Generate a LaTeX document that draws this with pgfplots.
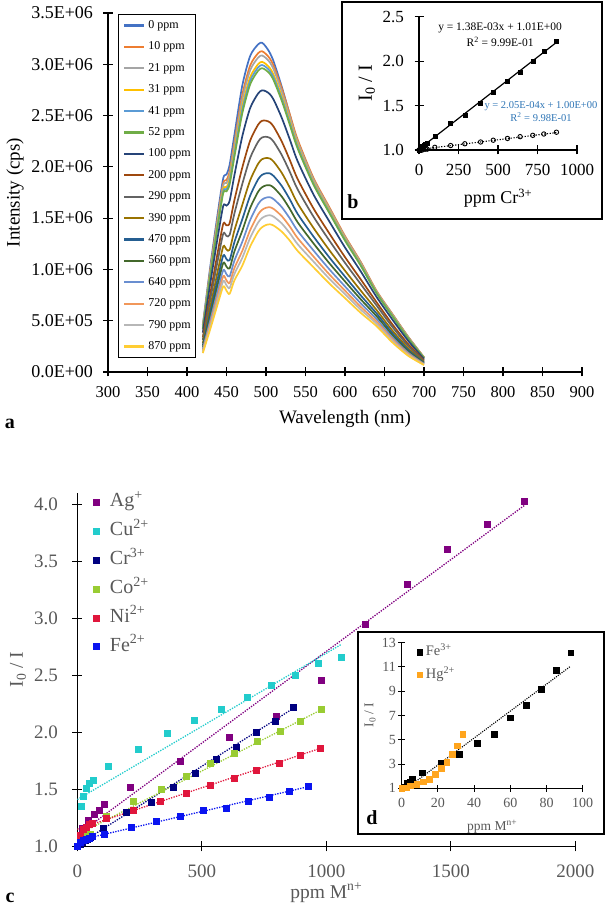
\documentclass[border=0pt]{standalone}
\usepackage{fontspec}
\setmainfont{Liberation Serif}
\usepackage{pgfplots}
\usepackage{pgfplotstable}
\pgfplotsset{compat=1.18}
\newcommand{\fs}[1]{\fontsize{#1}{#1}\selectfont}
\definecolor{s0}{HTML}{4472C4}\definecolor{s1}{HTML}{ED7D31}\definecolor{s2}{HTML}{A5A5A5}
\definecolor{s3}{HTML}{FFC000}\definecolor{s4}{HTML}{5B9BD5}\definecolor{s5}{HTML}{70AD47}
\definecolor{s6}{HTML}{264478}\definecolor{s7}{HTML}{9E480E}\definecolor{s8}{HTML}{636363}
\definecolor{s9}{HTML}{997300}\definecolor{s10}{HTML}{255E91}\definecolor{s11}{HTML}{43682B}
\definecolor{s12}{HTML}{698ED0}\definecolor{s13}{HTML}{F1975A}\definecolor{s14}{HTML}{B7B7B7}
\definecolor{s15}{HTML}{FFCD33}
\definecolor{txtgray}{HTML}{595959}
\definecolor{cAg}{HTML}{800080}\definecolor{cCu}{HTML}{22CCCC}\definecolor{cCr}{HTML}{000080}
\definecolor{cCo}{HTML}{99CC33}\definecolor{cNi}{HTML}{E0163C}\definecolor{cFe}{HTML}{0A14F0}
\definecolor{cHg}{HTML}{FFA51E}
\definecolor{eqblue}{HTML}{2E75B6}

\pgfplotstableread{
wl c0 c10 c21 c31 c41 c52 c100 c200 c290 c390 c470 c560 c640 c720 c790 c870
420 0.459 0.445 0.439 0.429 0.424 0.418 0.384 0.338 0.313 0.280 0.258 0.240 0.223 0.208 0.197 0.184
430 1.059 1.029 1.013 0.991 0.979 0.968 0.890 0.784 0.727 0.653 0.602 0.561 0.521 0.487 0.461 0.432
440 1.605 1.562 1.541 1.509 1.493 1.477 1.366 1.214 1.131 1.024 0.947 0.886 0.826 0.776 0.736 0.691
446 1.894 1.845 1.821 1.785 1.766 1.748 1.622 1.447 1.351 1.226 1.137 1.065 0.994 0.935 0.888 0.835
450 1.926 1.871 1.843 1.803 1.782 1.761 1.622 1.430 1.327 1.194 1.101 1.027 0.953 0.893 0.845 0.792
454 2.022 1.958 1.925 1.879 1.854 1.830 1.670 1.452 1.337 1.191 1.090 1.010 0.932 0.868 0.819 0.763
460 2.311 2.240 2.203 2.151 2.124 2.097 1.918 1.675 1.545 1.380 1.266 1.175 1.086 1.013 0.956 0.893
470 2.793 2.702 2.656 2.591 2.556 2.522 2.298 1.993 1.833 1.629 1.489 1.378 1.270 1.181 1.113 1.037
480 3.082 2.989 2.943 2.875 2.840 2.805 2.574 2.257 2.088 1.870 1.720 1.600 1.482 1.384 1.309 1.224
490 3.194 3.108 3.065 3.001 2.969 2.936 2.715 2.411 2.245 2.030 1.878 1.757 1.636 1.536 1.457 1.368
495 3.210 3.127 3.086 3.024 2.993 2.962 2.746 2.449 2.286 2.074 1.922 1.801 1.681 1.581 1.501 1.411
500 3.170 3.099 3.060 3.001 2.972 2.942 2.736 2.450 2.293 2.086 1.937 1.819 1.700 1.601 1.522 1.433
505 3.110 3.055 3.018 2.962 2.934 2.906 2.708 2.434 2.282 2.081 1.936 1.820 1.704 1.606 1.528 1.440
510 3.020 2.979 2.944 2.891 2.864 2.838 2.650 2.388 2.242 2.048 1.908 1.796 1.683 1.588 1.512 1.426
520 2.780 2.764 2.734 2.688 2.665 2.643 2.477 2.246 2.115 1.941 1.813 1.710 1.607 1.519 1.448 1.368
530 2.510 2.517 2.491 2.451 2.432 2.413 2.270 2.069 1.954 1.799 1.685 1.592 1.499 1.420 1.355 1.282
540 2.240 2.268 2.246 2.212 2.196 2.180 2.056 1.882 1.781 1.644 1.542 1.460 1.377 1.306 1.247 1.181
560 1.870 1.894 1.878 1.851 1.840 1.828 1.732 1.596 1.516 1.406 1.322 1.255 1.186 1.127 1.078 1.022
580 1.590 1.609 1.595 1.573 1.562 1.552 1.470 1.353 1.284 1.190 1.119 1.062 1.003 0.953 0.911 0.864
600 1.310 1.326 1.315 1.297 1.289 1.281 1.214 1.120 1.064 0.988 0.930 0.883 0.834 0.793 0.759 0.720
620 1.060 1.073 1.064 1.048 1.042 1.035 0.980 0.902 0.856 0.793 0.746 0.708 0.669 0.635 0.607 0.576
640 0.780 0.791 0.785 0.776 0.772 0.767 0.731 0.680 0.648 0.604 0.571 0.543 0.515 0.490 0.470 0.446
660 0.560 0.566 0.561 0.551 0.547 0.543 0.511 0.465 0.439 0.404 0.379 0.358 0.337 0.319 0.304 0.288
680 0.340 0.344 0.340 0.333 0.330 0.327 0.304 0.272 0.254 0.231 0.215 0.201 0.188 0.177 0.168 0.158
700 0.140 0.144 0.142 0.140 0.138 0.137 0.127 0.115 0.107 0.098 0.091 0.086 0.080 0.076 0.072 0.068
}\spectra

\pgfplotsset{
  panel/.style={scale only axis, axis lines*=left, tick align=center,
    axis line style={line width=1.4pt}, every tick/.style={line width=1.2pt, black},
    /pgf/number format/assume math mode=true, /pgf/number format/1000 sep={},
    anchor=south west},
  spec/.style={line width=1.7pt, smooth, tension=0.45, no marks},
  trend/.style={line width=1.3pt, dash pattern=on 1.3pt off 1.3pt, no marks, forget plot},
  onedec/.style={/pgf/number format/fixed, /pgf/number format/fixed zerofill, /pgf/number format/precision=1},
}

\begin{document}
\begin{tikzpicture}
\path[use as bounding box] (0pt,0pt) rectangle (606pt,911pt);

% ---------------- panel a ----------------
\begin{axis}[panel, at={(108pt,539pt)}, width=474pt, height=359pt,
  xmin=300, xmax=900, ymin=0, ymax=3.5,
  major tick length=9pt,
  xtick={300,350,...,900}, ytick={0,0.5,1,1.5,2,2.5,3,3.5},
  yticklabels={0.0E+00,5.0E+05,1.0E+06,1.5E+06,2.0E+06,2.5E+06,3.0E+06,3.5E+06},
  xticklabel style={font=\fs{16.5}, yshift=-6pt},
  yticklabel style={font=\fs{18}, xshift=-7pt},
  xlabel={Wavelength (nm)}, ylabel={Intensity (cps)},
  label style={font=\fs{19}},
  xlabel style={at={(axis description cs:0.5,-0.131)}, anchor=center},
  ylabel style={at={(axis description cs:-0.196,0.5)}, anchor=center},
  legend image code/.code={\draw[#1, line width=2.2pt] (0pt,0pt) -- (20pt,0pt);},
  legend style={at={(axis description cs:0.0211,0.9972)}, anchor=north west,
    draw=black, line width=1pt, inner xsep=4.7pt, inner ysep=5.5pt,
    font=\fs{12}, row sep=10.4pt, column sep=3pt,
    nodes={inner sep=0pt, text height=8.5pt, text depth=2.5pt, anchor=west}},
  legend cell align=left]
\addplot[spec, s0] table[x=wl,y=c0] {\spectra};
\addplot[spec, s1] table[x=wl,y=c10] {\spectra};
\addplot[spec, s2] table[x=wl,y=c21] {\spectra};
\addplot[spec, s3] table[x=wl,y=c31] {\spectra};
\addplot[spec, s4] table[x=wl,y=c41] {\spectra};
\addplot[spec, s5] table[x=wl,y=c52] {\spectra};
\addplot[spec, s6] table[x=wl,y=c100] {\spectra};
\addplot[spec, s7] table[x=wl,y=c200] {\spectra};
\addplot[spec, s8] table[x=wl,y=c290] {\spectra};
\addplot[spec, s9] table[x=wl,y=c390] {\spectra};
\addplot[spec, s10] table[x=wl,y=c470] {\spectra};
\addplot[spec, s11] table[x=wl,y=c560] {\spectra};
\addplot[spec, s12] table[x=wl,y=c640] {\spectra};
\addplot[spec, s13] table[x=wl,y=c720] {\spectra};
\addplot[spec, s14] table[x=wl,y=c790] {\spectra};
\addplot[spec, s15] table[x=wl,y=c870] {\spectra};
\legend{0 ppm,10 ppm,21 ppm,31 ppm,41 ppm,52 ppm,100 ppm,200 ppm,290 ppm,390 ppm,470 ppm,560 ppm,640 ppm,720 ppm,790 ppm,870 ppm}
\end{axis}
\node[font=\bfseries\fs{20}] at (10pt,487pt) {a};

% ---------------- panel b ----------------
\filldraw[fill=white, draw=black, line width=1.4pt] (342pt,692pt) rectangle (602pt,909pt);
\begin{axis}[panel, at={(419pt,761pt)}, width=158pt, height=133.3pt,
  xmin=0, xmax=1000, ymin=1, ymax=2.5, major tick length=9pt, clip=false,
  xtick={0,250,500,750,1000}, ytick={1,1.5,2,2.5},
  xticklabel style={font=\fs{17}, yshift=-6pt},
  yticklabel style={font=\fs{17}, xshift=-7pt, onedec},
  xlabel={ppm Cr\textsuperscript{3+}}, ylabel={I\textsubscript{0} / I},
  xlabel style={font=\fs{18}, at={(axis description cs:0.5,-0.36)}, anchor=center},
  ylabel style={font=\fs{20}, at={(axis description cs:-0.33,0.5)}, anchor=center}]
\addplot[black, line width=1.2pt, no marks] coordinates {(0,1.01) (870,2.211)};
\addplot[black, line width=1.1pt, dash pattern=on 1.2pt off 1.6pt, no marks] coordinates {(0,1.005) (870,1.196)};
\addplot[only marks, mark=square*, mark size=2pt, black] coordinates {
(0,1.0) (10,1.02) (21,1.04) (31,1.05) (41,1.06) (52,1.08) (100,1.16) (200,1.30) (290,1.39)
(390,1.53) (470,1.65) (560,1.77) (640,1.88) (720,2.00) (790,2.11) (870,2.22)};
\addplot[only marks, mark=o, mark size=2.2pt, black, line width=0.9pt] coordinates {
(0,1.0) (10,1.0) (21,1.0) (31,1.01) (41,1.01) (52,1.01) (100,1.03) (200,1.05) (290,1.07)
(390,1.09) (470,1.11) (560,1.13) (640,1.15) (720,1.165) (790,1.18) (870,1.20)};
\node[font=\fs{11.5}] at (axis cs:513,2.373) {y = 1.38E-03x + 1.01E+00};
\node[font=\fs{11.5}] at (axis cs:513,2.215) {R\textsuperscript{2} = 9.99E-01};
\node[font=\fs{10.5}, text=eqblue] at (axis cs:772,1.49) {y = 2.05E-04x + 1.00E+00};
\node[font=\fs{10.5}, text=eqblue] at (axis cs:772,1.37) {R\textsuperscript{2} = 9.98E-01};
\end{axis}
\node[font=\bfseries\fs{20}] at (353pt,709pt) {b};

% ---------------- panel c ----------------
\begin{axis}[panel, at={(77.3pt,64.7pt)}, width=498pt, height=353.3pt,
  xmin=0, xmax=2000, ymin=1, ymax=4.1, major tick length=10pt,
  xtick={0,500,1000,1500,2000}, ytick={1,1.5,2,2.5,3,3.5,4},
  xticklabel style={font=\fs{19}, text=txtgray, yshift=-10pt},
  yticklabel style={font=\fs{19}, text=txtgray, xshift=-11pt, onedec},
  xlabel={ppm M\textsuperscript{n+}}, ylabel={I\textsubscript{0} / I},
  label style={font=\fs{19.5}, text=txtgray},
  xlabel style={at={(axis description cs:0.5,-0.132)}, anchor=center},
  ylabel style={at={(axis description cs:-0.119,0.5)}, anchor=center},
  mark size=3pt,
  legend style={at={(axis description cs:0.031,0.9994)}, anchor=north west,
    draw=none, fill=none, inner sep=0pt, font=\fs{20}, text=txtgray,
    row sep=11.4pt, column sep=11pt,
    nodes={inner sep=0pt, text height=13.5pt, text depth=4pt, anchor=west}},
  legend cell align=left]
\addplot[only marks, mark=square*, cAg] coordinates {
(0,1.0) (18,1.16) (44,1.225) (67,1.28) (88,1.32) (107,1.37) (213,1.52) (415,1.75) (611,1.96)
(798,2.14) (981,2.46) (1156,2.95) (1323,3.30) (1487,3.61) (1645,3.83) (1795,4.03)};
\addlegendentry{Ag\textsuperscript{+}}
\addplot[only marks, mark=square*, cCu] coordinates {
(0,1.0) (14,1.35) (24,1.44) (35,1.51) (48,1.55) (64,1.58) (126,1.70) (245,1.85) (361,1.99)
(471,2.11) (577,2.20) (681,2.31) (779,2.41) (877,2.505) (968,2.61) (1059,2.66)};
\addlegendentry{Cu\textsuperscript{2+}}
\addplot[only marks, mark=square*, cCr] coordinates {
(0,1.0) (10,1.02) (21,1.04) (31,1.05) (41,1.06) (52,1.08) (104,1.16) (196,1.30) (295,1.39)
(387,1.52) (473,1.64) (557,1.76) (637,1.87) (719,2.00) (794,2.10) (867,2.22)};
\addlegendentry{Cr\textsuperscript{3+}}
\addplot[only marks, mark=square*, cCo] coordinates {
(0,1.0) (10,1.04) (21,1.06) (31,1.08) (41,1.09) (52,1.11) (118,1.26) (225,1.40) (335,1.50)
(436,1.615) (535,1.725) (632,1.82) (724,1.92) (813,2.01) (897,2.10) (981,2.20)};
\addlegendentry{Co\textsuperscript{2+}}
\addplot[only marks, mark=square*, cNi] coordinates {
(0,1.0) (12,1.10) (24,1.15) (36,1.17) (48,1.19) (60,1.20) (115,1.245) (225,1.32) (334,1.395)
(437,1.467) (533,1.537) (630,1.596) (720,1.665) (811,1.728) (897,1.797) (977,1.86)};
\addlegendentry{Ni\textsuperscript{2+}}
\addplot[only marks, mark=square*, cFe] coordinates {
(0,1.0) (11,1.04) (24,1.055) (35,1.065) (48,1.075) (58,1.085) (108,1.108) (216,1.167) (316,1.216)
(414,1.266) (507,1.315) (597,1.33) (685,1.40) (771,1.435) (853,1.483) (929,1.527)};
\addlegendentry{Fe\textsuperscript{2+}}
\addplot[cAg, trend] coordinates {(0,1.10) (1795,3.99)};
\addplot[cCu, trend] coordinates {(0,1.41) (1059,2.77)};
\addplot[cCr, trend] coordinates {(0,1.01) (867,2.21)};
\addplot[cCo, trend] coordinates {(0,1.10) (981,2.20)};
\addplot[cNi, trend] coordinates {(0,1.15) (977,1.86)};
\addplot[cFe, trend] coordinates {(0,1.05) (929,1.524)};
\end{axis}
\node[font=\bfseries\fs{20}] at (10pt,13pt) {c};

% ---------------- panel d ----------------
\filldraw[fill=white, draw=black, line width=1.4pt] (358pt,77pt) rectangle (604pt,279pt);
\begin{axis}[panel, at={(401.7pt,122.7pt)}, width=181pt, height=145.6pt,
  xmin=0, xmax=100, ymin=1, ymax=13, major tick length=6.5pt,
  axis line style={line width=1.2pt}, every tick/.style={line width=1pt, black},
  xtick={0,20,40,60,80,100}, ytick={1,3,5,7,9,11,13},
  xticklabel style={font=\fs{14}, text=txtgray, yshift=-3pt},
  yticklabel style={font=\fs{14}, text=txtgray, xshift=1pt},
  xlabel={ppm M\textsuperscript{n+}}, ylabel={I\textsubscript{0} / I},
  label style={font=\fs{13.5}, text=txtgray},
  xlabel style={at={(axis description cs:0.5,-0.264)}, anchor=center},
  ylabel style={at={(axis description cs:-0.175,0.503)}, anchor=center},
  mark size=2.8pt,
  legend style={at={(axis description cs:0.082,0.979)}, anchor=north west,
    draw=none, fill=none, inner sep=0pt, font=\fs{14.5}, text=txtgray,
    row sep=9.3pt, column sep=3.5pt,
    nodes={inner sep=0pt, text height=10pt, text depth=3pt, anchor=west}},
  legend cell align=left]
\addplot[only marks, mark=square*, black] coordinates {
(0,1.0) (1,1.13) (3,1.41) (4.6,1.54) (5.7,1.77) (11.2,2.29) (21.7,3.05) (31.8,3.80) (41.6,4.71)
(51,5.48) (59.8,6.82) (68.7,7.87) (77,9.19) (85.2,10.75) (93.4,12.18)};
\addlegendentry{Fe\textsuperscript{3+}}
\addplot[only marks, mark=square*, cHg] coordinates {
(0,1.0) (2.4,1.05) (4.6,1.21) (8.3,1.33) (11.8,1.54) (15.3,1.77) (18.4,2.18) (21.7,2.65)
(24.8,3.14) (28.0,3.83) (30.7,4.51) (33.7,5.45)};
\addlegendentry{Hg\textsuperscript{2+}}
\addplot[black, line width=1.1pt, dash pattern=on 1.1pt off 1.2pt, no marks, forget plot] coordinates {(2.7,1.0) (93.4,11.07)};
\end{axis}
\node[font=\bfseries\fs{20}] at (372pt,93pt) {d};
\end{tikzpicture}
\end{document}
